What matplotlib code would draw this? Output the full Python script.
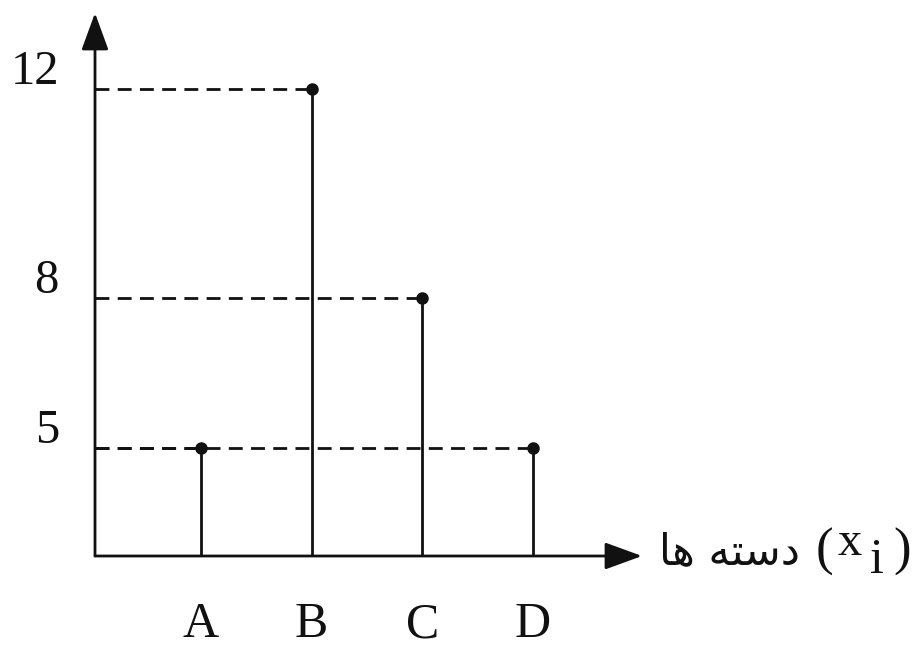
import numpy as np
import matplotlib
matplotlib.use("Agg")
import matplotlib.pyplot as plt
import matplotlib.transforms as mtransforms

# ---- data ----
categories = ["A", "B", "C", "D"]
values = [5, 12, 8, 5]
ytick_values = [5, 8, 12]
ytick_labels = ["5", "8", "12"]
# x-axis label: "(x_i) دسته ها" (Arabic in visual LTR presentation forms)
xlabel_arabic = "\uFE8E\uFEEB \uFEEA\uFE98\uFEB3\uFEA9"
xlabel_var = "x"
xlabel_sub = "i"

ink = "#111111"
serif = ["Liberation Serif", "DejaVu Serif"]

fig = plt.figure(figsize=(9.18, 6.47), dpi=100)
ax = fig.add_axes([95 / 918, 91 / 647, 547 / 918, 543 / 647])

# the reference drawing is schematic (not to scale): piecewise-linear axis scale
_v = np.array([0, 5, 8, 12, 14], dtype=float)
_p = np.array([0, 108, 258, 467, 571.5])

def fwd(v):
    return np.interp(v, _v, _p)

def inv(p):
    return np.interp(p, _p, _v)

ax.set_yscale("function", functions=(fwd, inv))
ax.set_ylim(0, inv(543))
x = np.arange(len(categories))
ax.set_xlim(-0.958, 3.984)

for s in ax.spines.values():
    s.set_visible(False)
ax.set_xticks([])
ax.set_yticks([])

lw = 2.0
# dashed guides
ax.hlines(values, ax.get_xlim()[0], x, colors=ink, linestyles=(0, (5, 3)), lw=lw, zorder=2)
# stems
ax.vlines(x, 0, values, colors=ink, lw=lw, zorder=3)
ax.plot(x, values, "o", color=ink, ms=8, zorder=4)

# arrows for axes
arrow_kw = dict(arrowstyle="-|>,head_length=1.15,head_width=0.42", mutation_scale=20,
                lw=lw, color=ink, shrinkA=0, shrinkB=0)
ax.annotate("", xy=(1, 0), xytext=(0, 0), xycoords="axes fraction",
            arrowprops=arrow_kw, annotation_clip=False)
ax.annotate("", xy=(0, 1), xytext=(0, 0), xycoords="axes fraction",
            arrowprops=arrow_kw, annotation_clip=False)

# y labels (slightly above the guide lines)
ytrans = mtransforms.blended_transform_factory(ax.transAxes, ax.transData) + \
    mtransforms.ScaledTranslation(0, 12 / 72, fig.dpi_scale_trans)
for v, lab in zip(ytick_values, ytick_labels):
    ax.text(-36 / 547, v, lab, transform=ytrans, ha="right", va="center",
            fontsize=35, family=serif, color=ink)

# x category labels
xtrans = mtransforms.blended_transform_factory(ax.transData, ax.transAxes)
for xi, lab in zip(x, categories):
    ax.text(xi, -69 / 543, lab, transform=xtrans, ha="center", va="center",
            fontsize=36, family=serif, color=ink)

# axis title to the right of the arrow
yc = (647 - 552) / 647
ax.text(800 / 918, yc, xlabel_arabic, transform=fig.transFigure,
        ha="right", va="center", fontsize=31, family=["DejaVu Sans"], color=ink)
ax.text(816 / 918, yc, "(", transform=fig.transFigure, ha="left", va="center",
        fontsize=38, family=serif, color=ink)
ax.text(838 / 918, (647 - 555) / 647, xlabel_var, transform=fig.transFigure,
        ha="left", va="baseline", fontsize=35, family=serif, color=ink)
ax.text(870 / 918, (647 - 573) / 647, xlabel_sub, transform=fig.transFigure,
        ha="left", va="baseline", fontsize=36, family=serif, color=ink)
ax.text(911 / 918, yc, ")", transform=fig.transFigure, ha="right", va="center",
        fontsize=38, family=serif, color=ink)

fig.savefig("out.png", dpi=100)
